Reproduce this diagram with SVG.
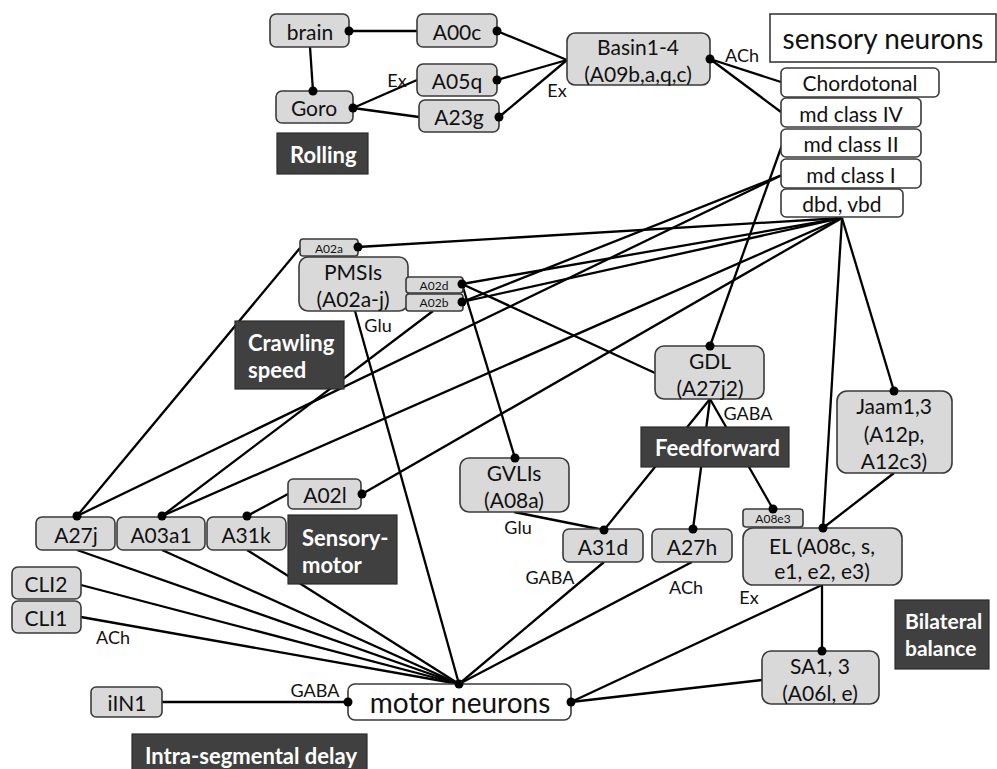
<svg xmlns="http://www.w3.org/2000/svg" width="997" height="769" viewBox="0 0 997 769">
<style>
text{font-family:Lato,"Open Sans","Liberation Sans",sans-serif;fill:#111;text-anchor:middle;dominant-baseline:central}
.g rect{fill:#d9d9d9;stroke:#3a3a3a;stroke-width:1.6}
.w rect{fill:#fff;stroke:#3a3a3a;stroke-width:1.6}
.d rect{fill:#404040;stroke:#2c2c2c;stroke-width:1.2}
.d text{fill:#fff;font-weight:bold;font-size:22px;text-anchor:start}
.t{font-size:21px}
.s{font-size:12px}
.big{font-size:28px}
.lab{font-size:18px}
#edges line{stroke:#000;stroke-width:2.3}
#ends circle{fill:#000}
</style>
<g id="edges">
<line x1="349" y1="31" x2="417" y2="31"/>
<line x1="310" y1="47" x2="313" y2="91"/>
<line x1="353" y1="108" x2="417" y2="80"/>
<line x1="353" y1="108" x2="419" y2="117"/>
<line x1="497" y1="31" x2="567" y2="60"/>
<line x1="497" y1="80" x2="567" y2="60"/>
<line x1="499" y1="117" x2="567" y2="60"/>
<line x1="710" y1="59" x2="781" y2="82"/>
<line x1="710" y1="59" x2="781" y2="112"/>
<line x1="782" y1="145" x2="710" y2="346"/>
<line x1="782" y1="175" x2="77" y2="516"/>
<line x1="782" y1="175" x2="462" y2="302"/>
<line x1="842" y1="218" x2="358" y2="247"/>
<line x1="842" y1="218" x2="462" y2="284"/>
<line x1="842" y1="218" x2="462" y2="302"/>
<line x1="842" y1="218" x2="162" y2="516"/>
<line x1="842" y1="218" x2="362" y2="494"/>
<line x1="842" y1="218" x2="823" y2="528"/>
<line x1="842" y1="218" x2="894" y2="391"/>
<line x1="300" y1="248" x2="77" y2="516"/>
<line x1="433" y1="311" x2="162" y2="516"/>
<line x1="462" y1="284" x2="655" y2="373"/>
<line x1="462" y1="284" x2="515" y2="458"/>
<line x1="355" y1="311" x2="459" y2="684"/>
<line x1="288" y1="494" x2="247" y2="516"/>
<line x1="710" y1="399" x2="604" y2="530"/>
<line x1="710" y1="399" x2="693" y2="529"/>
<line x1="710" y1="399" x2="773" y2="509"/>
<line x1="514" y1="512" x2="604" y2="530"/>
<line x1="894" y1="473" x2="823" y2="528"/>
<line x1="822" y1="585" x2="822" y2="651"/>
<line x1="822" y1="585" x2="571" y2="702"/>
<line x1="762" y1="680" x2="571" y2="702"/>
<line x1="604" y1="562" x2="459" y2="684"/>
<line x1="692" y1="562" x2="459" y2="684"/>
<line x1="77" y1="550" x2="459" y2="684"/>
<line x1="162" y1="550" x2="459" y2="684"/>
<line x1="247" y1="550" x2="459" y2="684"/>
<line x1="81" y1="585" x2="459" y2="684"/>
<line x1="81" y1="617" x2="459" y2="684"/>
<line x1="162" y1="702" x2="348" y2="702"/>
</g>
<g id="edge-labels" class="lab">
<text x="397" y="80">Ex</text>
<text x="557" y="90">Ex</text>
<text x="742" y="55">ACh</text>
<text x="378" y="325">Glu</text>
<text x="748" y="413">GABA</text>
<text x="518" y="527">Glu</text>
<text x="550" y="577">GABA</text>
<text x="686" y="587">ACh</text>
<text x="749" y="597">Ex</text>
<text x="113" y="637">ACh</text>
<text x="315" y="690">GABA</text>
</g>
<g id="brain" class="g"><rect x="270" y="14" width="79" height="33" rx="6"/><text class="t" x="310" y="31">brain</text></g>
<g id="A00c" class="g"><rect x="417" y="14" width="80" height="33" rx="6"/><text class="t" x="457" y="31">A00c</text></g>
<g id="A05q" class="g"><rect x="417" y="64" width="80" height="32" rx="6"/><text class="t" x="457" y="80">A05q</text></g>
<g id="A23g" class="g"><rect x="419" y="100" width="80" height="32" rx="6"/><text class="t" x="459" y="116">A23g</text></g>
<g id="Goro" class="g"><rect x="276" y="91" width="77" height="32" rx="6"/><text class="t" x="314" y="107">Goro</text></g>
<g id="Basin" class="g"><rect x="567" y="33" width="143" height="52" rx="8"/><text class="t" x="638" y="46">Basin1-4</text><text class="t" x="638" y="73">(A09b,a,q,c)</text></g>
<g id="Rolling" class="d"><rect x="277" y="133" width="91" height="41"/><text x="290" y="154">Rolling</text></g>
<g id="sensory" class="w"><rect x="770" y="14" width="226" height="48"/><text class="big" x="883" y="38">sensory neurons</text></g>
<g id="Chordotonal" class="w"><rect x="781" y="68" width="158" height="29" rx="5"/><text class="t" x="860" y="82">Chordotonal</text></g>
<g id="mdIV" class="w"><rect x="781" y="98" width="140" height="29" rx="5"/><text class="t" x="851" y="113">md class IV</text></g>
<g id="mdII" class="w"><rect x="781" y="129" width="140" height="28" rx="5"/><text class="t" x="851" y="143">md class II</text></g>
<g id="mdI" class="w"><rect x="781" y="159" width="140" height="29" rx="5"/><text class="t" x="851" y="174">md class I</text></g>
<g id="dbd" class="w"><rect x="781" y="189" width="122" height="28" rx="5"/><text class="t" x="842" y="203">dbd, vbd</text></g>
<g id="A02a" class="g"><rect x="300" y="239" width="58" height="17" rx="3"/><text class="s" x="329" y="248">A02a</text></g>
<g id="PMSIs" class="g"><rect x="299" y="257" width="109" height="54" rx="9"/><text class="t" x="353" y="271">PMSIs</text><text class="t" x="353" y="298">(A02a-j)</text></g>
<g id="A02d" class="g"><rect x="406" y="277" width="57" height="16" rx="3"/><text class="s" x="434" y="285">A02d</text></g>
<g id="A02b" class="g"><rect x="406" y="294" width="57" height="17" rx="3"/><text class="s" x="434" y="302">A02b</text></g>
<g id="Crawling" class="d"><rect x="235" y="321" width="109" height="68"/><text x="248" y="342">Crawling</text><text x="248" y="369">speed</text></g>
<g id="GDL" class="g"><rect x="655" y="346" width="109" height="53" rx="9"/><text class="t" x="710" y="360">GDL</text><text class="t" x="710" y="387">(A27j2)</text></g>
<g id="Jaam" class="g"><rect x="837" y="391" width="115" height="82" rx="10"/><text class="t" x="894" y="405">Jaam1,3</text><text class="t" x="894" y="433">(A12p,</text><text class="t" x="894" y="460">A12c3)</text></g>
<g id="Feedforward" class="d"><rect x="641" y="427" width="148" height="40"/><text x="655" y="447">Feedforward</text></g>
<g id="GVLIs" class="g"><rect x="460" y="458" width="109" height="54" rx="9"/><text class="t" x="514" y="472">GVLIs</text><text class="t" x="514" y="499">(A08a)</text></g>
<g id="A02l" class="g"><rect x="288" y="479" width="73" height="30" rx="5"/><text class="t" x="325" y="494">A02l</text></g>
<g id="A27j" class="g"><rect x="36" y="517" width="79" height="33" rx="6"/><text class="t" x="76" y="534">A27j</text></g>
<g id="A03a1" class="g"><rect x="117" y="517" width="88" height="33" rx="6"/><text class="t" x="161" y="534">A03a1</text></g>
<g id="A31k" class="g"><rect x="207" y="517" width="79" height="33" rx="6"/><text class="t" x="246" y="534">A31k</text></g>
<g id="Sensory-motor" class="d"><rect x="288" y="515" width="109" height="69"/><text x="302" y="537">Sensory-</text><text x="302" y="564">motor</text></g>
<g id="A08e3" class="g"><rect x="743" y="509" width="60" height="18" rx="3"/><text class="s" x="773" y="518">A08e3</text></g>
<g id="A31d" class="g"><rect x="563" y="529" width="80" height="33" rx="6"/><text class="t" x="603" y="546">A31d</text></g>
<g id="A27h" class="g"><rect x="652" y="529" width="80" height="33" rx="6"/><text class="t" x="692" y="546">A27h</text></g>
<g id="EL" class="g"><rect x="743" y="528" width="159" height="57" rx="10"/><text class="t" x="822" y="545">EL (A08c, s,</text><text class="t" x="822" y="570">e1, e2, e3)</text></g>
<g id="CLI2" class="g"><rect x="12" y="567" width="69" height="32" rx="6"/><text class="t" x="46" y="583">CLI2</text></g>
<g id="CLI1" class="g"><rect x="12" y="601" width="69" height="32" rx="6"/><text class="t" x="46" y="617">CLI1</text></g>
<g id="Bilateral" class="d"><rect x="895" y="600" width="94" height="69"/><text x="905" y="620" style="font-size:21px">Bilateral</text><text x="905" y="647" style="font-size:21px">balance</text></g>
<g id="SA" class="g"><rect x="762" y="651" width="117" height="53" rx="9"/><text class="t" x="820" y="665">SA1, 3</text><text class="t" x="820" y="692">(A06l, e)</text></g>
<g id="iIN1" class="g"><rect x="91" y="687" width="71" height="30" rx="5"/><text class="t" x="127" y="702">iIN1</text></g>
<g id="motor" class="w"><rect x="348" y="684" width="223" height="36" rx="7"/><text class="big" x="460" y="702">motor neurons</text></g>
<g id="Intra" class="d"><rect x="132" y="734" width="235" height="45"/><text x="145" y="755">Intra-segmental delay</text></g>
<g id="ends">
<circle cx="349" cy="31" r="4.5"/><circle cx="313" cy="91" r="4.5"/><circle cx="353" cy="108" r="4.5"/>
<circle cx="497" cy="31" r="4.5"/><circle cx="497" cy="80" r="4.5"/><circle cx="499" cy="117" r="4.5"/>
<circle cx="710" cy="59" r="4.5"/><circle cx="710" cy="346" r="4.5"/><circle cx="77" cy="516" r="4.5"/>
<circle cx="462" cy="302" r="4.5"/><circle cx="358" cy="247" r="4.5"/><circle cx="462" cy="284" r="4.5"/>
<circle cx="162" cy="516" r="4.5"/><circle cx="362" cy="494" r="4.5"/><circle cx="823" cy="528" r="4.5"/>
<circle cx="894" cy="391" r="4.5"/><circle cx="515" cy="458" r="4.5"/><circle cx="247" cy="516" r="4.5"/>
<circle cx="604" cy="530" r="4.5"/><circle cx="693" cy="529" r="4.5"/><circle cx="773" cy="509" r="4.5"/>
<circle cx="822" cy="651" r="4.5"/><circle cx="571" cy="702" r="4.5"/><circle cx="459" cy="684" r="4.5"/>
<circle cx="348" cy="702" r="4.5"/>
</g>
</svg>
